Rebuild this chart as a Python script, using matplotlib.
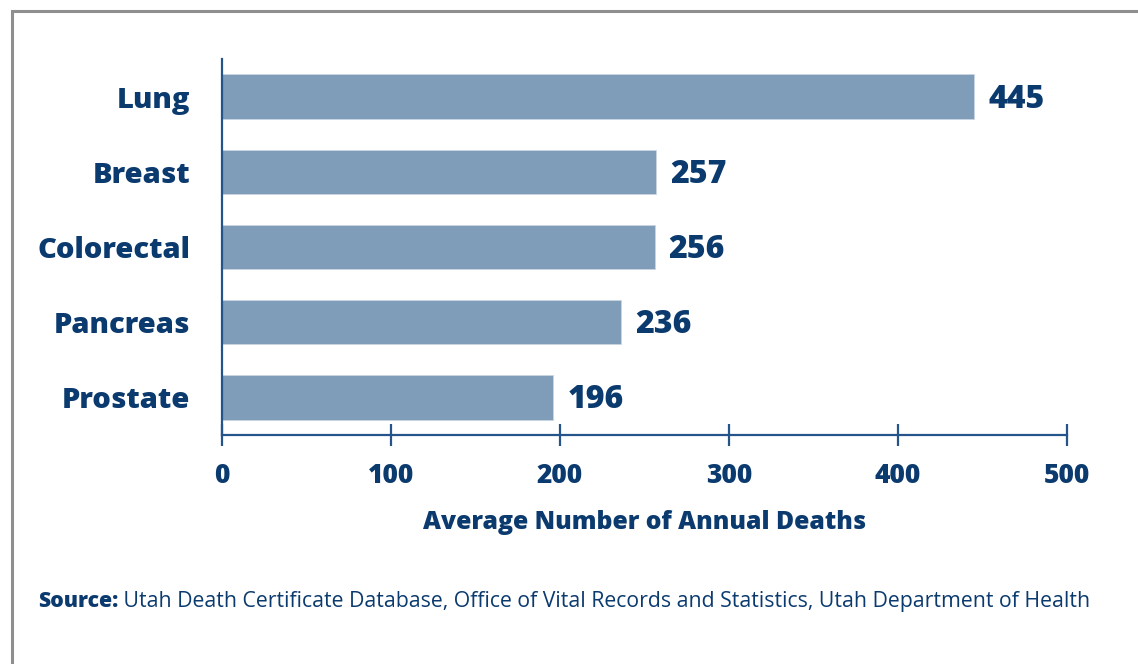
import matplotlib
matplotlib.use("Agg")
import matplotlib.pyplot as plt
from matplotlib.patches import Rectangle

categories = ["Lung", "Breast", "Colorectal", "Pancreas", "Prostate"]
deaths = [445, 257, 256, 236, 196]
xticks = [0, 100, 200, 300, 400, 500]
xlabel = "Average Number of Annual Deaths"
source_bold = "Source:"
source_rest = " Utah Death Certificate Database, Office of Vital Records and Statistics, Utah Department of Health"

NAVY = "#0b3a6e"
BAR = "#7f9db9"
AXC = "#24548a"

plt.rcParams['font.family'] = ['Open Sans', 'DejaVu Sans']

W, H = 1138, 664
fig = plt.figure(figsize=(W / 100, H / 100), dpi=100)
fig.patch.set_facecolor("white")

# border
fig.patches.append(Rectangle((12 / W, -0.1), 1.2, 1 - 11 / H + 0.1, transform=fig.transFigure,
                             fill=False, edgecolor="#8f8f8f", linewidth=2.2))

ax = fig.add_axes([222 / W, 1 - 435 / H, (1067 - 222) / W, (435 - 59) / H])
ypos = list(range(len(categories)))
bars = ax.barh(ypos, deaths, height=0.59, color=BAR, edgecolor="#c9d5e2", linewidth=0.6)
ax.set_ylim(len(categories) - 0.5, -0.5)
ax.set_xlim(0, 500)

for s in ["top", "right"]:
    ax.spines[s].set_visible(False)
for s in ["left", "bottom"]:
    ax.spines[s].set_color(AXC)
    ax.spines[s].set_linewidth(1.6)

ax.set_yticks(ypos)
ax.set_yticklabels(categories, fontsize=21, fontweight="heavy", color=NAVY)
ax.tick_params(axis="y", length=0, pad=23)

ax.set_xticks(xticks)
ax.set_xticklabels([str(t) for t in xticks], fontsize=19, fontweight="heavy", color=NAVY)
ax.tick_params(axis="x", direction="inout", length=16, width=1.6, color=AXC, pad=12)

ax.set_xlabel(xlabel, fontsize=17.8, fontweight="heavy", color=NAVY, labelpad=15)

for y, v in zip(ypos, deaths):
    ax.annotate(str(v), (v, y), xytext=(14, -3), textcoords="offset pixels",
                ha="left", va="center", fontsize=23, fontweight="heavy", color=NAVY)

t1 = fig.text(38 / W, 1 - 607 / H, source_bold, fontsize=15.3, fontweight="heavy", color=NAVY,
              ha="left", va="baseline")
fig.canvas.draw()
bb = t1.get_window_extent()
fig.text(bb.x1 / W, 1 - 607 / H, source_rest, fontsize=15.3, color=NAVY, ha="left", va="baseline")

fig.savefig("out.png", dpi=100, facecolor="white")
